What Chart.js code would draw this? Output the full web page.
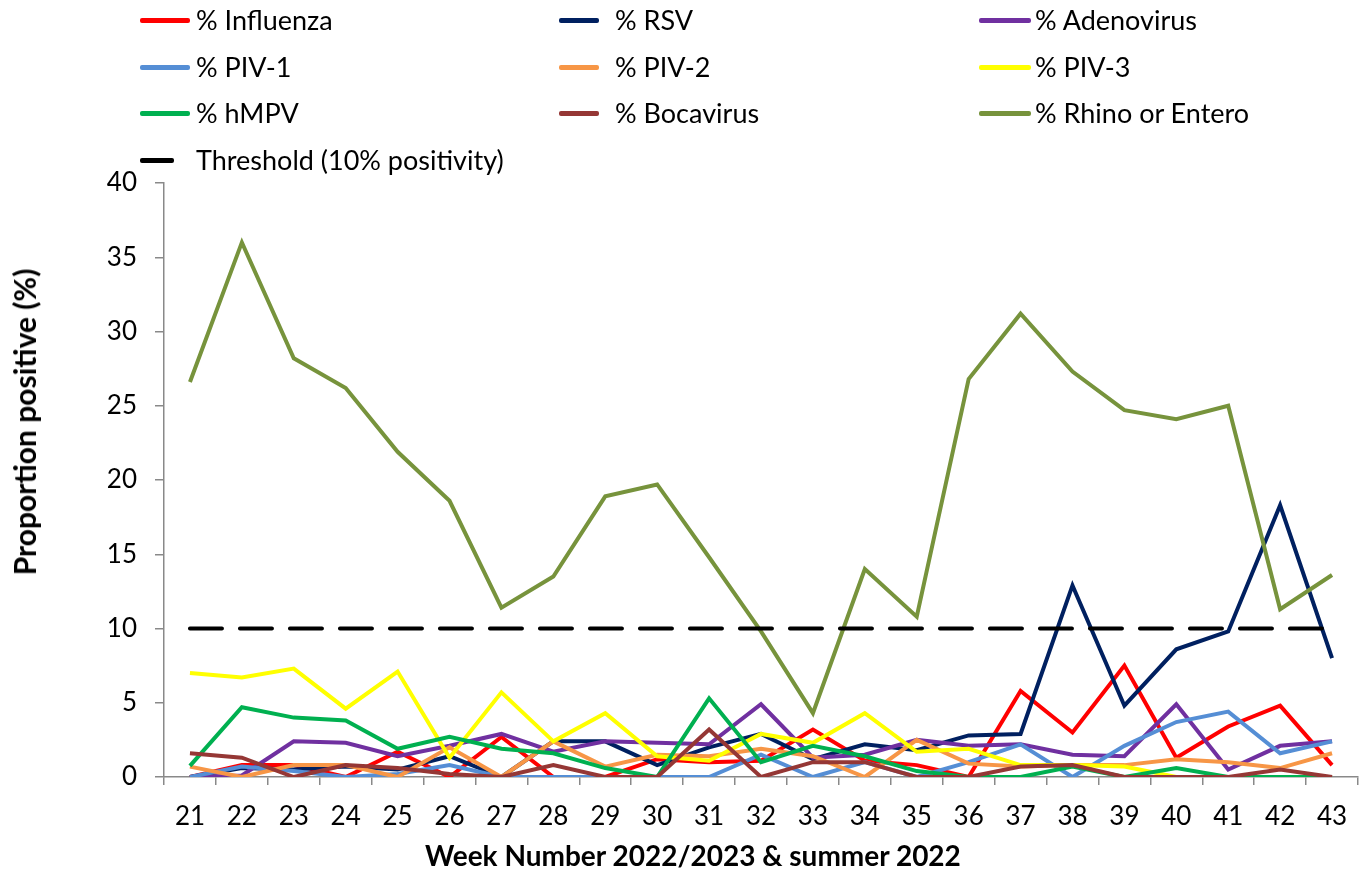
<!DOCTYPE html>
<html>
<head>
<meta charset="utf-8">
<script src="https://cdn.jsdelivr.net/npm/chart.js@4"></script>
<style>
  body { margin: 0; background: #fff; font-family: Lato, sans-serif; }
  #wrap { position: relative; width: 1364px; height: 869px; }
  #chart { position: absolute; left: 0; top: 0; }
  .leg { position: absolute; font-size: 27px; color: #000; white-space: nowrap; line-height: 1; }
  .leg i { position: absolute; top: 50%; margin-top: -2px; height: 5px; border-radius: 2px; }
  .ttl { position: absolute; font-weight: bold; font-size: 28px; color: #000; white-space: nowrap; line-height: 1; }
</style>
</head>
<body>
<div id="wrap">
  <canvas id="chart" width="1364" height="869"></canvas>
  <div id="legend"></div>
  <div class="ttl" style="left:425px; top:841px;">Week Number 2022/2023 &amp; summer 2022</div>
  <div class="ttl" style="left:24px; top:422px; font-size:30px; transform: translate(-50%, -50%) rotate(-90deg);">Proportion positive (%)</div>
</div>
<script>
const weeks = ["21","22","23","24","25","26","27","28","29","30","31","32","33","34","35","36","37","38","39","40","41","42","43"];

const influenza = [0, 0.8, 0.8, 0, 1.7, 0, 2.7, 0, 0, 1.2, 1.0, 1.1, 3.2, 1.1, 0.8, 0, 5.8, 3.0, 7.5, 1.3, 3.4, 4.8, 0.8];
const rsv = [0, 0.6, 0.5, 0.7, 0.5, 1.4, 0, 2.4, 2.4, 0.8, 2.0, 2.9, 1.2, 2.2, 1.8, 2.8, 2.9, 12.9, 4.8, 8.6, 9.8, 18.3, 8.0];
const adenovirus = [0, 0.1, 2.4, 2.3, 1.4, 2.1, 2.9, 1.7, 2.4, 2.3, 2.2, 4.9, 1.3, 1.5, 2.5, 2.1, 2.2, 1.5, 1.4, 4.9, 0.5, 2.1, 2.4];
const piv1 = [0, 0.7, 0.4, 0, 0.2, 0.8, 0, 0, 0, 0, 0, 1.5, 0, 1.0, 0, 1.0, 2.2, 0, 2.1, 3.7, 4.4, 1.6, 2.4];
const piv2 = [0.7, 0, 0.8, 0.8, 0, 2.0, 0, 2.4, 0.7, 1.5, 1.4, 1.9, 1.4, 0, 2.5, 0.9, 0.7, 0.8, 0.8, 1.2, 1.0, 0.6, 1.6];
const piv3 = [7.0, 6.7, 7.3, 4.6, 7.1, 1.3, 5.7, 2.4, 4.3, 1.4, 1.1, 2.9, 2.3, 4.3, 1.7, 1.9, 0.8, 0.8, 0.7, 0, 0, 0, 0];
const hmpv = [0.75, 4.7, 4.0, 3.8, 1.9, 2.7, 1.9, 1.6, 0.6, 0, 5.3, 1.0, 2.1, 1.4, 0.4, 0, 0, 0.7, 0, 0.6, 0, 0, 0];
const bocavirus = [1.6, 1.3, 0, 0.8, 0.6, 0.2, 0, 0.8, 0, 0, 3.2, 0, 1.0, 1.0, 0, 0, 0.7, 0.8, 0, 0, 0, 0.5, 0];
const rhinoEntero = [26.6, 36, 28.2, 26.2, 21.9, 18.6, 11.4, 13.5, 18.9, 19.7, 14.8, 9.8, 4.3, 14.0, 10.8, 26.8, 31.2, 27.3, 24.7, 24.1, 25.0, 11.3, 13.6];
const threshold = weeks.map(() => 10);

const series = [
  { label: "% Influenza", data: influenza, color: "#ff0000" },
  { label: "% RSV", data: rsv, color: "#002060" },
  { label: "% Adenovirus", data: adenovirus, color: "#7030a0" },
  { label: "% PIV-1", data: piv1, color: "#558ed5" },
  { label: "% PIV-2", data: piv2, color: "#f79646" },
  { label: "% PIV-3", data: piv3, color: "#ffff00" },
  { label: "% hMPV", data: hmpv, color: "#00b050" },
  { label: "% Bocavirus", data: bocavirus, color: "#953735" },
  { label: "% Rhino or Entero", data: rhinoEntero, color: "#77933c" },
  { label: "Threshold (10% positivity)", data: threshold, color: "#000000", dash: true },
];

// legend in three columns, like the original
const legCols = [140, 559, 979];
const legRows = [20, 67, 113, 160];
const legendEl = document.getElementById("legend");
series.forEach((s, i) => {
  const col = s.dash ? 0 : i % 3;
  const row = s.dash ? 3 : Math.floor(i / 3);
  const lineW = s.dash ? 34 : (col === 2 ? 52 : (col === 1 ? 40 : 50));
  const d = document.createElement("div");
  d.className = "leg";
  d.style.left = legCols[col] + "px";
  d.style.top = (legRows[row] - 14) + "px";
  d.innerHTML = '<i style="left:0; width:' + lineW + 'px; background:' + s.color + '"></i>' +
    '<span style="margin-left:56px">' + s.label + "</span>";
  legendEl.appendChild(d);
});

const n = series.length;
const datasets = series.map((s, i) => ({
  label: s.label,
  data: s.data,
  borderColor: s.color,
  backgroundColor: s.color,
  borderWidth: 4,
  borderDash: s.dash ? [32, 18] : [],
  borderCapStyle: s.dash ? "round" : "butt",
  pointRadius: 0,
  tension: 0,
  fill: false,
  order: n - i,
}));

const tickFont = { family: "Lato", size: 26 };
const axisGrey = "#898989";

new Chart(document.getElementById("chart"), {
  type: "line",
  data: { labels: weeks, datasets: datasets },
  options: {
    responsive: false,
    animation: false,
    layout: { padding: { top: 183, left: 0, right: 6, bottom: 0 } },
    plugins: { legend: { display: false }, tooltip: { enabled: false } },
    scales: {
      x: {
        offset: true,
        grid: { offset: true, drawOnChartArea: false, drawTicks: true, tickLength: 8, color: axisGrey, lineWidth: 1.5 },
        border: { color: axisGrey, width: 1.5 },
        ticks: { font: tickFont, color: "#000", padding: 16, maxRotation: 0, autoSkip: false },
        afterFit: (scale) => { scale.height = 92; },
      },
      y: {
        min: 0,
        max: 40,
        grid: { drawOnChartArea: false, drawTicks: true, tickLength: 9, color: axisGrey, lineWidth: 1.5 },
        border: { color: axisGrey, width: 1.5 },
        ticks: { stepSize: 5, font: tickFont, color: "#000", padding: 18 },
        afterFit: (scale) => { scale.width = 164; },
      },
    },
  },
});
</script>
</body>
</html>
